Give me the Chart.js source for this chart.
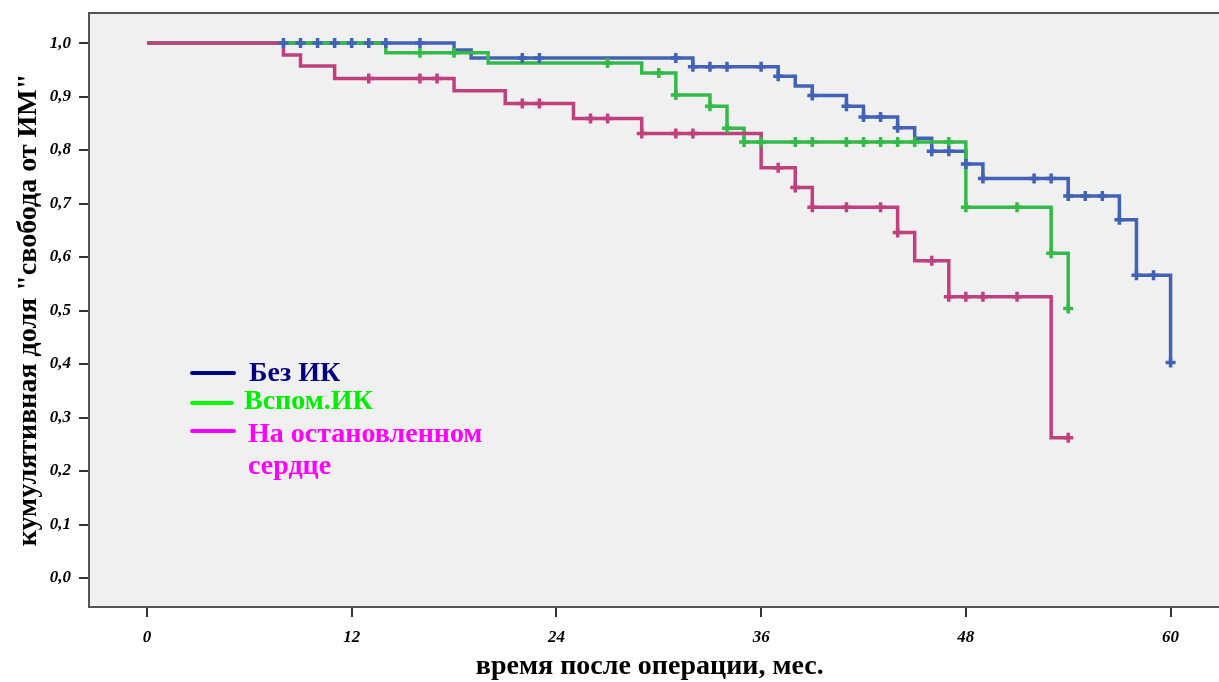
<!DOCTYPE html>
<html>
<head>
<meta charset="utf-8">
<script src="https://cdn.jsdelivr.net/npm/chart.js@4.4.1/dist/chart.umd.min.js"></script>
<style>
  html, body { margin: 0; padding: 0; background: #ffffff; }
  #wrap { position: relative; width: 1219px; height: 682px; }
  canvas { position: absolute; left: 0; top: 0; }
  .lg { position: absolute; font-family: "Liberation Serif", "Times New Roman", serif; font-weight: bold; font-size: 28px; line-height: 1; white-space: nowrap; }
  .sw { position: absolute; height: 4px; border-radius: 2px; }
</style>
</head>
<body>
<div id="wrap">
  <canvas id="c" width="1219" height="682"></canvas>
  <div class="sw" style="left:190px; top:371px; width:46px; background:#000080;"></div>
  <div class="lg" style="left:249px; top:358px; color:#000080;">Без ИК</div>
  <div class="sw" style="left:190px; top:401px; width:44px; background:#00ff00;"></div>
  <div class="lg" style="left:244px; top:386px; color:#00ee00;">Вспом.ИК</div>
  <div class="sw" style="left:190px; top:429px; width:46px; background:#ff00ff;"></div>
  <div class="lg" style="left:248px; top:419px; color:#ff00ff;">На остановленном</div>
  <div class="lg" style="left:248px; top:451px; color:#ff00ff;">сердце</div>
</div>
<script>
// ---- data ----
const xTicks = [0, 12, 24, 36, 48, 60];
const yTicks = [0, 0.1, 0.2, 0.3, 0.4, 0.5, 0.6, 0.7, 0.8, 0.9, 1.0];

const seriesNames = ["Без ИК", "Вспом.ИК", "На остановленном сердце"];

// Без ИК: step events (time, survival)
const blueTimes = [0, 18, 19, 32, 37, 38, 39, 41, 42, 44, 45, 46, 48, 49, 54, 57, 58, 60];
const blueSurv  = [1.0, 0.987, 0.972, 0.956, 0.938, 0.920, 0.902, 0.882, 0.862, 0.842, 0.822, 0.798, 0.774, 0.747, 0.714, 0.670, 0.566, 0.403];
const blueCensT = [8, 9, 10, 11, 12, 13, 14, 16, 22, 23, 31, 32, 33, 34, 36, 37, 39, 41, 42, 43, 44, 46, 47, 48, 49, 52, 53, 54, 55, 56, 57, 58, 59, 60];
const blueCensS = [1, 1, 1, 1, 1, 1, 1, 1, 0.972, 0.972, 0.972, 0.956, 0.956, 0.956, 0.956, 0.938, 0.902, 0.882, 0.862, 0.862, 0.842, 0.798, 0.798, 0.774, 0.747, 0.747, 0.747, 0.714, 0.714, 0.714, 0.670, 0.566, 0.566, 0.403];

// Вспом.ИК
const greenTimes = [0, 14, 20, 29, 31, 33, 34, 35, 48, 53, 54];
const greenSurv  = [1.0, 0.982, 0.963, 0.944, 0.903, 0.882, 0.841, 0.815, 0.693, 0.607, 0.504];
const greenCensT = [16, 18, 27, 30, 31, 33, 34, 35, 36, 38, 39, 41, 42, 43, 44, 45, 47, 48, 51, 53, 54];
const greenCensS = [0.982, 0.982, 0.963, 0.944, 0.903, 0.882, 0.841, 0.815, 0.815, 0.815, 0.815, 0.815, 0.815, 0.815, 0.815, 0.815, 0.815, 0.693, 0.693, 0.607, 0.504];

// На остановленном сердце
const pinkTimes = [0, 8, 9, 11, 18, 21, 25, 29, 36, 38, 39, 44, 45, 47, 53, 54];
const pinkSurv  = [1.0, 0.978, 0.957, 0.934, 0.911, 0.887, 0.859, 0.831, 0.767, 0.730, 0.693, 0.646, 0.593, 0.526, 0.262, 0.262];
const pinkCensT = [13, 16, 17, 22, 23, 26, 27, 29, 31, 32, 37, 38, 39, 41, 43, 44, 46, 47, 48, 49, 51, 54];
const pinkCensS = [0.934, 0.934, 0.934, 0.887, 0.887, 0.859, 0.859, 0.831, 0.831, 0.831, 0.767, 0.730, 0.693, 0.693, 0.693, 0.646, 0.593, 0.526, 0.526, 0.526, 0.526, 0.262];

// ---- styles ----
const BLUE = "#4262b6", GREEN = "#34ba48", PINK = "#c0407e";
const zip = (a, b) => a.map((v, i) => ({ x: v, y: b[i] }));

function stepDS(label, t, s, color, order) {
  return { type: "line", label, data: zip(t, s), borderColor: color, backgroundColor: color,
    borderWidth: 3.5, stepped: "before", pointRadius: 0, fill: false, order };
}
function censDS(label, t, s, color, order) {
  return { type: "scatter", label, data: zip(t, s), borderColor: color, backgroundColor: color,
    pointStyle: "cross", pointRadius: 5, borderWidth: 3.5, showLine: false, order };
}

const boxPlugin = {
  id: "box",
  beforeDraw(chart) {
    const { ctx, chartArea: a } = chart;
    ctx.save();
    ctx.fillStyle = "#f0f0f0";
    ctx.fillRect(a.left, a.top, chart.width - a.left, a.bottom - a.top);
    ctx.restore();
  },
  afterDatasetsDraw(chart) {
    const { ctx, chartArea: a } = chart;
    ctx.save();
    ctx.strokeStyle = "#555555";
    ctx.lineWidth = 2;
    ctx.beginPath();
    ctx.moveTo(chart.width, a.top);
    ctx.lineTo(a.left, a.top);
    ctx.lineTo(a.left, a.bottom);
    ctx.lineTo(chart.width, a.bottom);
    ctx.stroke();
    ctx.restore();
  }
};

const zeroPad = (s) => { s.paddingLeft = 0; s.paddingRight = 0; s.paddingTop = 0; s.paddingBottom = 0; };

const tickFont = { family: "'Liberation Serif', serif", size: 17, style: "italic", weight: "bold" };
const titleFont = { family: "'Liberation Serif', serif", size: 28, weight: "bold" };

new Chart(document.getElementById("c"), {
  data: {
    datasets: [
      stepDS(seriesNames[0], blueTimes, blueSurv, BLUE, 6),
      stepDS(seriesNames[1], greenTimes, greenSurv, GREEN, 5),
      stepDS(seriesNames[2], pinkTimes, pinkSurv, PINK, 4),
      censDS(seriesNames[1] + " cens", greenCensT, greenCensS, GREEN, 3),
      censDS(seriesNames[0] + " cens", blueCensT, blueCensS, BLUE, 2),
      censDS(seriesNames[2] + " cens", pinkCensT, pinkCensS, PINK, 1)
    ]
  },
  options: {
    responsive: false,
    animation: false,
    layout: { padding: { top: 13, right: 0, left: 0, bottom: 0 } },
    plugins: { legend: { display: false }, tooltip: { enabled: false } },
    scales: {
      x: {
        type: "linear", min: -3.398, max: 62.34,
        afterBuildTicks: (s) => { s.ticks = xTicks.map(v => ({ value: v })); },
        afterFit: (s) => { s.height = 75; zeroPad(s); },
        ticks: { font: tickFont, color: "#000", padding: 10, maxRotation: 0, callback: (v) => String(v) },
        grid: { drawOnChartArea: false, drawTicks: true, tickLength: 10, color: "#333", lineWidth: 2 },
        border: { display: false },
        title: { display: true, text: "время после операции, мес.", font: titleFont, color: "#000", padding: { top: 0, bottom: -2 } }
      },
      y: {
        type: "linear", min: -0.0542, max: 1.0563,
        afterBuildTicks: (s) => { s.ticks = yTicks.map(v => ({ value: v })); },
        afterFit: (s) => { s.width = 89; zeroPad(s); },
        ticks: { font: tickFont, color: "#000", padding: 8, callback: (v) => v.toFixed(1).replace(".", ",") },
        grid: { drawOnChartArea: false, drawTicks: true, tickLength: 10, color: "#333", lineWidth: 2 },
        border: { display: false },
        title: { display: true, text: "кумулятивная доля \"свобода от ИМ\"", font: titleFont, color: "#000", padding: { top: 12, bottom: 0 } }
      }
    }
  },
  plugins: [boxPlugin]
});
</script>
</body>
</html>
